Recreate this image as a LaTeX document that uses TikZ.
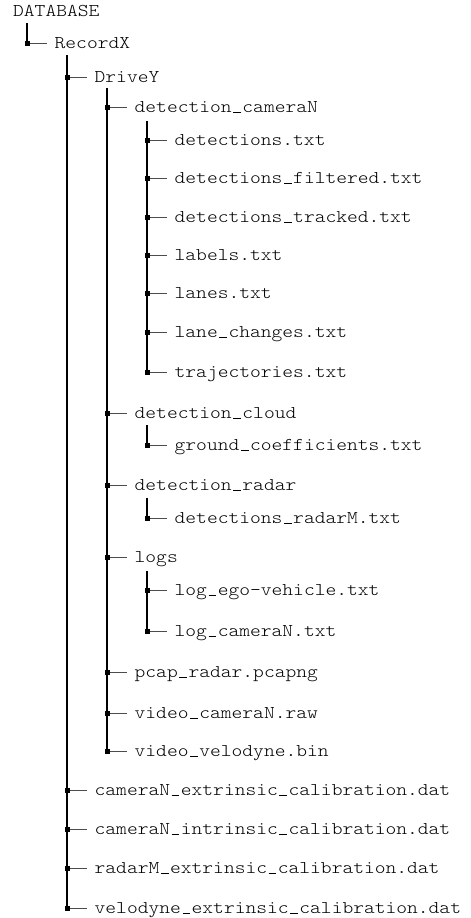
\documentclass[tikz,border=0pt]{standalone}
\usepackage{fontspec}
\setmainfont[FakeStretch=1.14]{lmmonolt10-regular.otf}
\newcommand\us{\makebox[0.6em][c]{\rule[0.0em]{0.42em}{0.05em}}}
\begin{document}
\begin{tikzpicture}[x=1pt,y=1pt,
  item/.style={anchor=west,inner xsep=7.5pt,inner ysep=0pt,text height=13pt,text depth=2pt,
    font=\fontsize{18}{20}\selectfont,text=black},
  vline/.style={line width=1.1pt,black},
  stub/.style={line width=0.7pt,black!70},
  sq/.style={fill=black}]
\useasboundingbox (0,0) rectangle (471,-918);
% levels: L1=27, L2=67, L3=107, L4=147 ; text nodes at L+20 (west anchor)
\node[item] (db) at (5.5,-11) {DATABASE};
\node[item] (rec) at (47,-43) {RecordX};
\node[item] (drv) at (87,-77) {DriveY};
\node[item] (dcam) at (127,-107) {detection\us cameraN};
\node[item] (d1) at (167,-140) {detections.txt};
\node[item] (d2) at (167,-178) {detections\us filtered.txt};
\node[item] (d3) at (167,-217) {detections\us tracked.txt};
\node[item] (d4) at (167,-255) {labels.txt};
\node[item] (d5) at (167,-293) {lanes.txt};
\node[item] (d6) at (167,-332) {lane\us changes.txt};
\node[item] (d7) at (167,-372) {trajectories.txt};
\node[item] (dcl) at (127,-413) {detection\us cloud};
\node[item] (gc) at (167,-445) {ground\us coefficients.txt};
\node[item] (drad) at (127,-485) {detection\us radar};
\node[item] (drm) at (167,-518) {detections\us radarM.txt};
\node[item] (logs) at (127,-557) {logs};
\node[item] (lev) at (167,-590) {log\us ego-vehicle.txt};
\node[item] (lcam) at (167,-631) {log\us cameraN.txt};
\node[item] (pcap) at (127,-672) {pcap\us radar.pcapng};
\node[item] (vcam) at (127,-713) {video\us cameraN.raw};
\node[item] (vvel) at (127,-751) {video\us velodyne.bin};
\node[item] (cext) at (87,-790) {cameraN\us extrinsic\us calibration.dat};
\node[item] (cint) at (87,-829) {cameraN\us intrinsic\us calibration.dat};
\node[item] (rext) at (87,-868) {radarM\us extrinsic\us calibration.dat};
\node[item] (vext) at (87,-908) {velodyne\us extrinsic\us calibration.dat};
% tops of vertical lines
\coordinate (t1) at (27,-23);
\coordinate (t2) at (67,-55);
\coordinate (t3) at (107,-88);
\coordinate (t4a) at (147,-121);
\coordinate (t4b) at (147,-425);
\coordinate (t4c) at (147,-498);
\coordinate (t4d) at (147,-571);
% vertical lines
\draw[vline] (t1) -- (rec.west -| t1);
\draw[vline] (t2) -- (vext.west -| t2);
\draw[vline] (t3) -- (vvel.west -| t3);
\draw[vline] (t4a) -- (d7.west -| t4a);
\draw[vline] (t4b) -- (gc.west -| t4b);
\draw[vline] (t4c) -- (drm.west -| t4c);
\draw[vline] (t4d) -- (lcam.west -| t4d);
% branches
\foreach \n/\t in {rec/t1, drv/t2, cext/t2, cint/t2, rext/t2, vext/t2,
  dcam/t3, dcl/t3, drad/t3, logs/t3, pcap/t3, vcam/t3, vvel/t3,
  d1/t4a, d2/t4a, d3/t4a, d4/t4a, d5/t4a, d6/t4a, d7/t4a,
  gc/t4b, drm/t4c, lev/t4d, lcam/t4d}{
  \draw[stub] (\n.west -| \t) -- (\n.west);
  \fill[sq] (\n.west -| \t) ++(-2.5,-2.5) rectangle ++(5,5);
}
\end{tikzpicture}
\end{document}
